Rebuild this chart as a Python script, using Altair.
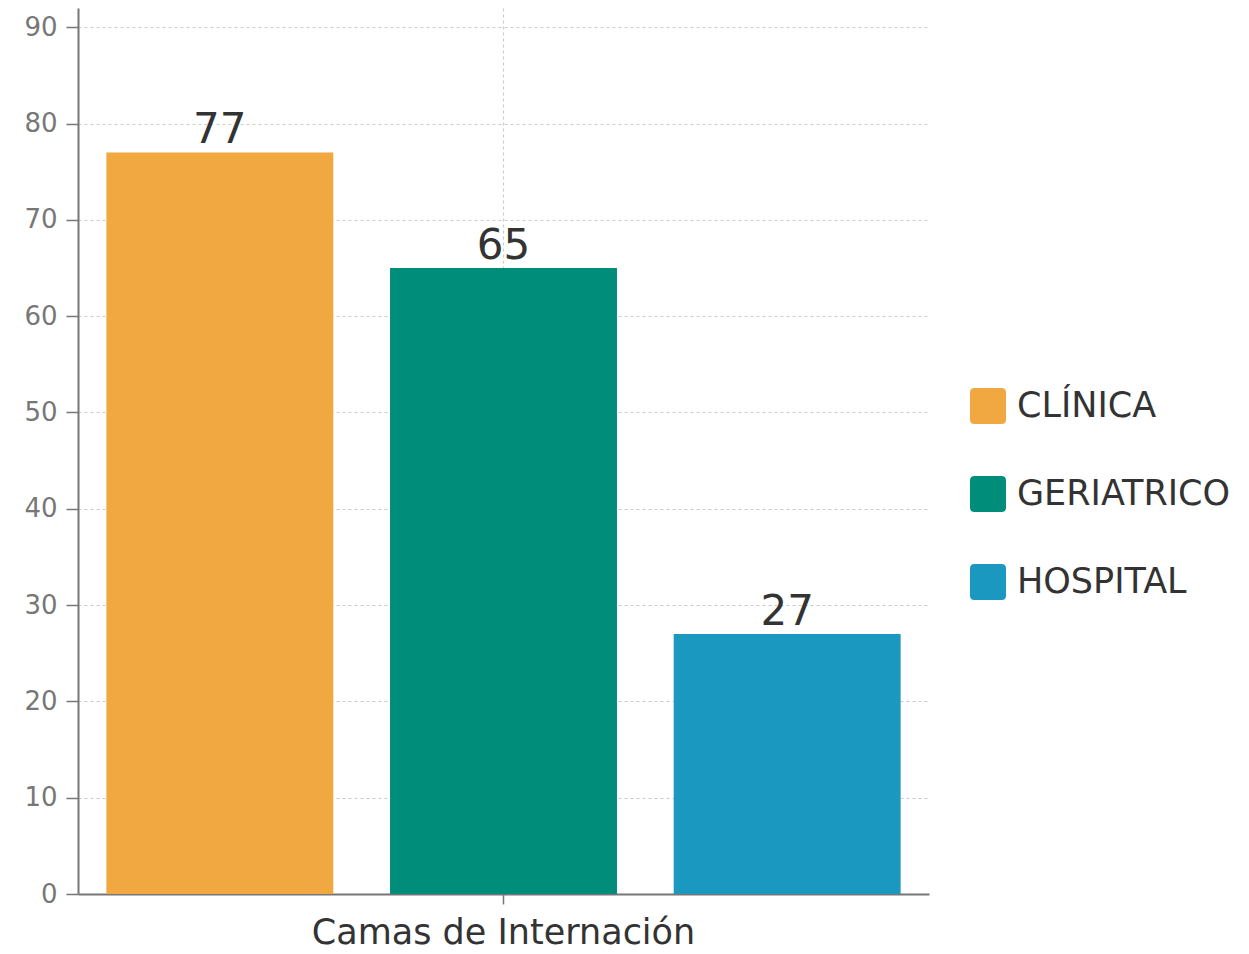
import altair as alt
import pandas as pd

category = ["Camas de Internación"] * 3
series = ["CLÍNICA", "GERIATRICO", "HOSPITAL"]
values = [77, 65, 27]
colors = ["#F2A840", "#008E7A", "#1A98C0"]

df = pd.DataFrame({"cat": category, "serie": series, "valor": values})

FONT = "DejaVu Sans"
rounded = "M -0.75 -1 H 0.75 Q 1 -1 1 -0.75 V 0.75 Q 1 1 0.75 1 H -0.75 Q -1 1 -1 0.75 V -0.75 Q -1 -1 -0.75 -1 Z"

x = alt.X("cat:N", title=None,
          scale=alt.Scale(paddingInner=0, paddingOuter=0),
          axis=alt.Axis(labelAngle=0, labelFontSize=35, labelColor="#333333", labelFont=FONT,
                        labelPadding=11, tickSize=10, tickColor="#777777", tickWidth=1.5,
                        domainColor="#777777", domainWidth=2, grid=True, gridDash=[3, 3],
                        gridColor="#cccccc", gridWidth=1.2, bandPosition=0.5, labelLimit=800))
xo = alt.XOffset("serie:N", scale=alt.Scale(paddingInner=0.2, paddingOuter=0.1))
y = alt.Y("valor:Q", title=None,
          scale=alt.Scale(domain=[0, 92], nice=False),
          axis=alt.Axis(values=list(range(0, 91, 10)), labelFontSize=26, labelColor="#777777",
                        labelFont=FONT, labelPadding=9, tickSize=12, tickColor="#777777",
                        tickWidth=1.5, domainColor="#777777", domainWidth=2, grid=True,
                        gridDash=[3, 3], gridColor="#cccccc", gridWidth=1.2))

bars = alt.Chart(df).mark_bar().encode(
    x=x, xOffset=xo, y=y,
    color=alt.Color("serie:N", scale=alt.Scale(domain=series, range=colors),
                    legend=alt.Legend(title=None, orient="none", legendX=892, legendY=380,
                                      symbolType=rounded, symbolSize=1296, symbolStrokeWidth=0,
                                      labelFontSize=35, labelFont=FONT, labelColor="#333333",
                                      labelOffset=11, rowPadding=52, symbolOpacity=1,
                                      labelLimit=400)),
)

labels = alt.Chart(df).mark_text(baseline="alphabetic", dy=-9, fontSize=42, font=FONT, color="#333333").encode(
    x=x, xOffset=xo, y=y, text="valor:Q"
)

chart = (bars + labels).properties(
    width=851, height=886,
    autosize=alt.AutoSizeParams(type="none"),
    padding={"left": 70, "top": 0, "right": 300, "bottom": 58},
    background="white",
).configure_view(stroke=None)

chart.save("out.html", embed_options={"renderer": "svg", "actions": False})
